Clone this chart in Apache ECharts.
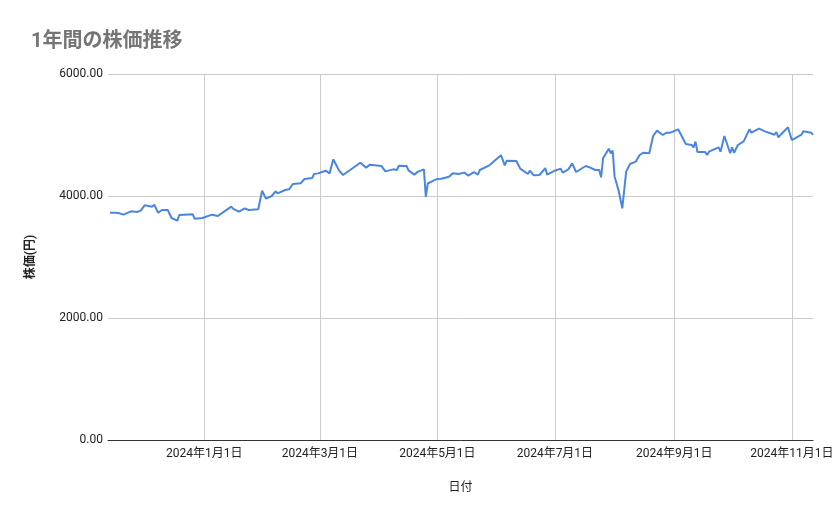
<!DOCTYPE html>
<html>
<head>
<meta charset="utf-8">
<script src="https://cdn.jsdelivr.net/npm/echarts@6.0.0/dist/echarts.min.js"></script>
<style>
  html, body { margin: 0; padding: 0; background: #fff; }
  #chart { width: 839px; height: 519px; }
</style>
</head>
<body>
<div id="chart"></div>
<script>
const chart = echarts.init(document.getElementById('chart'))

// 日付と株価 (読み取り値)
const dates = [
  '2023-11-13', '2023-11-16', '2023-11-18', '2023-11-20', '2023-11-24', '2023-11-27',
  '2023-11-28', '2023-11-29', '2023-12-01', '2023-12-03', '2023-12-05', '2023-12-06',
  '2023-12-08', '2023-12-10', '2023-12-11', '2023-12-13', '2023-12-15', '2023-12-18',
  '2023-12-19', '2023-12-26', '2023-12-27', '2023-12-31', '2024-01-05', '2024-01-08',
  '2024-01-12', '2024-01-15', '2024-01-16', '2024-01-19', '2024-01-22', '2024-01-24',
  '2024-01-29', '2024-01-31', '2024-02-02', '2024-02-05', '2024-02-07', '2024-02-08',
  '2024-02-12', '2024-02-14', '2024-02-16', '2024-02-20', '2024-02-22', '2024-02-26',
  '2024-02-27', '2024-02-29', '2024-03-04', '2024-03-06', '2024-03-08', '2024-03-11',
  '2024-03-12', '2024-03-13', '2024-03-22', '2024-03-25', '2024-03-27', '2024-04-02',
  '2024-04-04', '2024-04-08', '2024-04-10', '2024-04-11', '2024-04-15', '2024-04-16',
  '2024-04-19', '2024-04-21', '2024-04-24', '2024-04-25', '2024-04-26', '2024-04-29',
  '2024-05-01', '2024-05-03', '2024-05-07', '2024-05-08', '2024-05-09', '2024-05-12',
  '2024-05-15', '2024-05-17', '2024-05-20', '2024-05-22', '2024-05-23', '2024-05-28',
  '2024-05-29', '2024-06-03', '2024-06-04', '2024-06-05', '2024-06-06', '2024-06-11',
  '2024-06-13', '2024-06-14', '2024-06-17', '2024-06-18', '2024-06-20', '2024-06-23',
  '2024-06-24', '2024-06-26', '2024-06-27', '2024-07-01', '2024-07-04', '2024-07-05',
  '2024-07-08', '2024-07-10', '2024-07-12', '2024-07-17', '2024-07-19', '2024-07-22',
  '2024-07-24', '2024-07-25', '2024-07-26', '2024-07-29', '2024-07-30', '2024-07-31',
  '2024-08-01', '2024-08-03', '2024-08-05', '2024-08-07', '2024-08-09', '2024-08-12',
  '2024-08-13', '2024-08-14', '2024-08-16', '2024-08-19', '2024-08-21', '2024-08-23',
  '2024-08-26', '2024-08-28', '2024-08-29', '2024-08-30', '2024-09-03', '2024-09-07',
  '2024-09-10', '2024-09-11', '2024-09-12', '2024-09-13', '2024-09-17', '2024-09-18',
  '2024-09-19', '2024-09-24', '2024-09-25', '2024-09-27', '2024-09-30', '2024-10-01',
  '2024-10-02', '2024-10-04', '2024-10-07', '2024-10-10', '2024-10-11', '2024-10-15',
  '2024-10-18', '2024-10-23', '2024-10-24', '2024-10-25', '2024-10-30', '2024-11-01',
  '2024-11-06', '2024-11-07', '2024-11-11', '2024-11-12',
]

const prices = [
  3726, 3726, 3716, 3694, 3749, 3738,
  3770, 3760, 3847, 3836, 3825, 3858,
  3726, 3770, 3792, 3770, 3639, 3595,
  3688, 3700, 3628, 3639, 3694, 3672,
  3760, 3825, 3790, 3743, 3798, 3770,
  3782, 4087, 3956, 4000, 4077, 4044,
  4098, 4109, 4197, 4208, 4279, 4295,
  4361, 4371, 4415, 4371, 4601, 4415,
  4383, 4344, 4546, 4465, 4514, 4490,
  4404, 4437, 4426, 4497, 4492, 4420,
  4350, 4400, 4437, 3985, 4205, 4251,
  4280, 4284, 4317, 4306, 4371, 4361,
  4383, 4335, 4393, 4350, 4426, 4503,
  4500, 4670, 4665, 4503, 4578, 4574,
  4448, 4420, 4361, 4415, 4339, 4344,
  4361, 4457, 4350, 4415, 4448, 4383,
  4437, 4535, 4393, 4492, 4470, 4426,
  4426, 4306, 4618, 4776, 4700, 4743,
  4317, 4098, 3798, 4399, 4525, 4563,
  4618, 4672, 4710, 4700, 4984, 5071,
  5000, 5038, 5020, 5038, 5093, 4852,
  4836, 4798, 4891, 4721, 4721, 4672,
  4727, 4798, 4727, 4984, 4700, 4798,
  4710, 4836, 4896, 5093, 5038, 5104,
  5060, 5005, 5049, 4962, 5126, 4918,
  5005, 5060, 5038, 5005,
]

// x軸の目盛り (月初)
const xTicks = ['2024-01-01', '2024-03-01', '2024-05-01', '2024-07-01', '2024-09-01', '2024-11-01']

const toTime = (s) => {
  const p = s.split('-').map(Number)
  return new Date(p[0], p[1] - 1, p[2]).getTime()
}

const tickTimes = xTicks.map(toTime)
const seriesData = dates.map((d, i) => [toTime(d), prices[i]])

const font = 'Roboto, "Noto Sans CJK JP", sans-serif'

const option = {
  animation: false,
  title: {
    text: '1年間の株価推移',
    left: 26,
    top: 27,
    textStyle: {
      fontFamily: font,
      fontSize: 20,
      fontWeight: 'bold',
      color: '#757575',
    },
  },
  grid: {
    left: 108,
    right: 26,
    top: 74,
    bottom: 79,
  },
  xAxis: {
    type: 'value',
    min: toTime('2023-11-12'),
    max: toTime('2024-11-12'),
    name: '日付',
    nameLocation: 'middle',
    nameGap: 42,
    nameTextStyle: { fontFamily: font, fontSize: 12, color: '#222' },
    axisLine: { show: true, onZero: false, lineStyle: { color: '#333', width: 1 } },
    axisTick: { show: true, length: 0, customValues: tickTimes },
    axisLabel: {
      customValues: tickTimes,
      fontFamily: font,
      fontSize: 12,
      color: '#222',
      margin: 8,
      formatter: (v) => {
        const d = new Date(v)
        return d.getFullYear() + '年' + (d.getMonth() + 1) + '月' + d.getDate() + '日'
      },
    },
    splitLine: { show: true, lineStyle: { color: '#cccccc', width: 1 } },
  },
  yAxis: {
    type: 'value',
    min: 0,
    max: 6000,
    interval: 2000,
    name: '株価(円)',
    nameLocation: 'middle',
    nameGap: 71,
    nameTextStyle: { fontFamily: font, fontSize: 12, color: '#222', fontWeight: 'bold' },
    axisLine: { show: false },
    axisTick: { show: false },
    axisLabel: {
      fontFamily: font,
      fontSize: 12,
      color: '#222',
      margin: 5,
      formatter: (v) => v.toFixed(2),
    },
    splitLine: { lineStyle: { color: '#cccccc', width: 1 } },
  },
  series: [
    {
      name: '株価',
      type: 'line',
      data: seriesData,
      showSymbol: false,
      symbol: 'none',
      lineStyle: { color: '#4a86e0', width: 2 },
      itemStyle: { color: '#4a86e0' },
    },
  ],
}

chart.setOption(option)
</script>
</body>
</html>
